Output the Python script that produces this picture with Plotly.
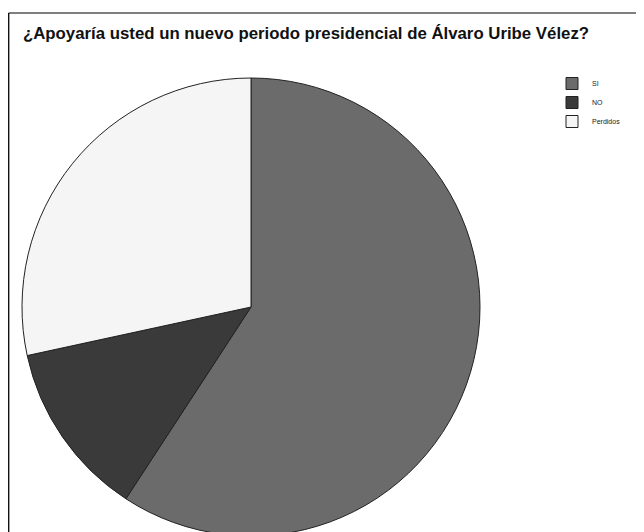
import plotly.graph_objects as go

# Survey answers (share of respondents, %)
labels = ['SI', 'NO', 'Perdidos']
shares = [59.2, 12.4, 28.4]
slice_colors = ['#6b6b6b', '#3a3a3a', '#f5f5f5']

TITLE = '¿Apoyaría usted un nuevo periodo presidencial de Álvaro Uribe Vélez?'

# the page body adds an 8px margin, so figure coords = screen coords - 8;
# the figure runs past the window bottom so the pie is cut off like the source
OFF = 8
W, H = 644, 540


def px_x(sx):
    return (sx - OFF) / W


def px_y(sy):
    return 1 - (sy - OFF) / H


fig = go.Figure()

fig.add_trace(go.Pie(
    labels=labels,
    values=shares,
    sort=False,
    direction='clockwise',
    rotation=0,
    marker=dict(colors=slice_colors, line=dict(color='#222222', width=1)),
    textinfo='none',
    hoverinfo='label+percent',
    domain=dict(x=[px_x(22), px_x(480)], y=[px_y(536), px_y(78)]),
))

# frame around the chart (top + left edges visible in the crop)
fig.add_shape(type='line', xref='paper', yref='paper',
              x0=0.001, x1=1.0, y0=px_y(13), y1=px_y(13),
              line=dict(color='#555555', width=1.5))
fig.add_shape(type='line', xref='paper', yref='paper',
              x0=0.001, x1=0.001, y0=px_y(13), y1=0,
              line=dict(color='#111111', width=1.5))

fig.update_layout(
    width=W,
    height=H,
    margin=dict(l=0, r=0, t=0, b=0),
    paper_bgcolor='white',
    plot_bgcolor='white',
    font=dict(family='Liberation Sans, Arial, sans-serif', color='#111111'),
    title=dict(
        text=f'<b>{TITLE}</b>',
        font=dict(size=16.8, color='#111111'),
        x=px_x(23), xanchor='left', xref='paper',
        y=px_y(33), yanchor='middle', yref='container',
    ),
    showlegend=True,
    legend=dict(
        x=px_x(552), y=px_y(69), xanchor='left', yanchor='top',
        font=dict(size=7, color='#222222'),
        bgcolor='rgba(0,0,0,0)',
        traceorder='normal',
    ),
)

fig.write_html('out.html')
